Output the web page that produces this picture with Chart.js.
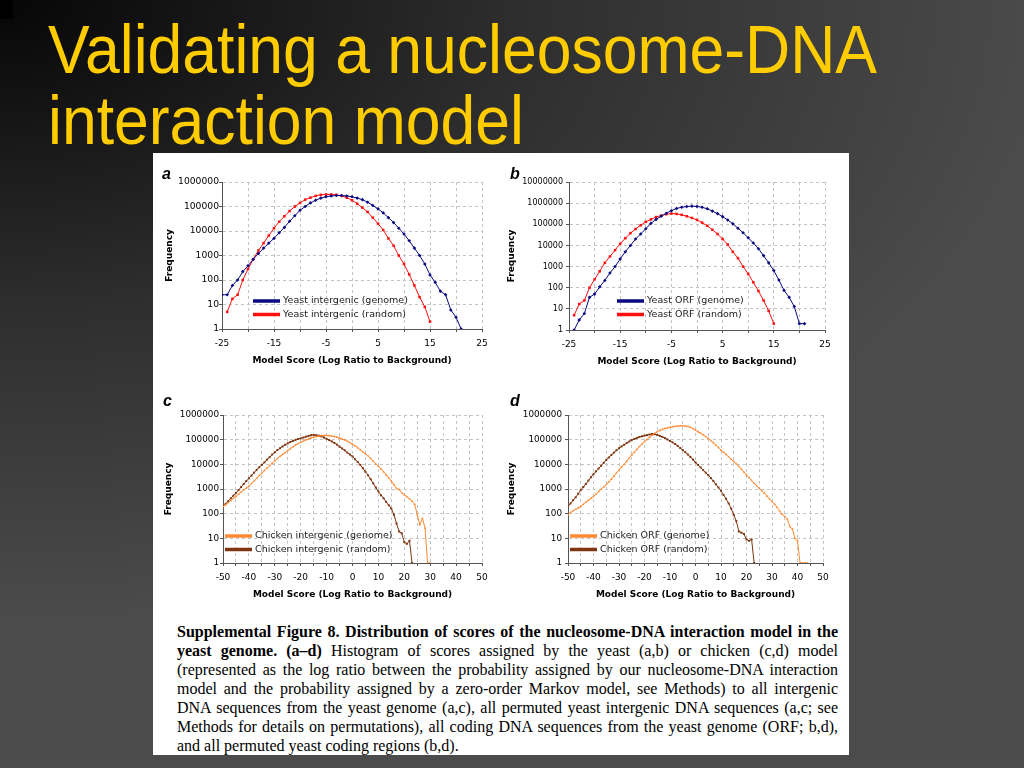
<!DOCTYPE html>
<html>
<head>
<meta charset="utf-8">
<title>Validating a nucleosome-DNA interaction model</title>
<script src="https://cdn.jsdelivr.net/npm/chart.js@4.4.1/dist/chart.umd.min.js"></script>
<style>
  html, body { margin: 0; padding: 0; }
  body {
    width: 1024px; height: 768px; overflow: hidden; position: relative;
    background: radial-gradient(ellipse 1050px 620px at 0 0, #060606 0%, #2e2e2e 50%, #4b4b4b 100%);
    background-color: #4b4b4b;
    font-family: "Liberation Sans", Arial, sans-serif;
  }
  #corner { position: absolute; left: 0; top: 0; width: 13px; height: 19px; background: #000; }
  #title {
    position: absolute; left: 48px; top: 14px; color: #ffcc00;
    font-size: 68px; line-height: 71px; white-space: nowrap;
  }
  #title .tl { display: inline-block; transform-origin: left center; }
  #sheet { position: absolute; left: 153px; top: 153px; width: 696px; height: 602px; background: #fff; }
  canvas { position: absolute; }
  .letter {
    position: absolute; font: italic bold 16px/16px "Liberation Sans", Arial, sans-serif; color: #000;
  }
  #caption {
    position: absolute; left: 177px; top: 621.5px; width: 661px;
    font-family: "Liberation Serif", "Times New Roman", serif; font-size: 16px; line-height: 19px; color: #000;
  }
  #caption .cl { display: inline-block; white-space: nowrap; transform-origin: left center; }
</style>
</head>
<body>
<div id="corner"></div>
<div id="title"><span class="tl">Validating a nucleosome-DNA</span><br><span class="tl">interaction model</span></div>
<div id="sheet"></div>

<canvas id="chartA" width="334" height="205" style="left:160px;top:165px"></canvas>
<canvas id="chartB" width="335" height="206" style="left:502px;top:165px"></canvas>
<canvas id="chartC" width="335" height="206" style="left:159px;top:398px"></canvas>
<canvas id="chartD" width="333" height="206" style="left:502px;top:398px"></canvas>

<div class="letter" style="left:162px;top:166px">a</div>
<div class="letter" style="left:510px;top:166px">b</div>
<div class="letter" style="left:163px;top:393px">c</div>
<div class="letter" style="left:510px;top:393px">d</div>

<div id="caption">
  <div><span class="cl j"><b>Supplemental Figure 8. Distribution of scores of the nucleosome-DNA interaction model in the</b></span></div>
  <div><span class="cl j"><b>yeast genome. (a–d)</b> Histogram of scores assigned by the yeast (a,b) or chicken (c,d) model</span></div>
  <div><span class="cl j">(represented as the log ratio between the probability assigned by our nucleosome-DNA interaction</span></div>
  <div><span class="cl j">model and the probability assigned by a zero-order Markov model, see Methods) to all intergenic</span></div>
  <div><span class="cl j">DNA sequences from the yeast genome (a,c), all permuted yeast intergenic DNA sequences (a,c; see</span></div>
  <div><span class="cl j">Methods for details on permutations), all coding DNA sequences from the yeast genome (ORF; b,d),</span></div>
  <div><span class="cl">and all permuted yeast coding regions (b,d).</span></div>
</div>

<script>
// --- data (score bins, frequency counts) ---
const xTitle = 'Model Score (Log Ratio to Background)';
const yTitle = 'Frequency';

const yTicksSix = [1, 10, 100, 1000, 10000, 100000, 1000000];
const yTicksSeven = [1, 10, 100, 1000, 10000, 100000, 1000000, 10000000];

// panel a / b : yeast model
const aGenomeX = [-25,-24,-23,-22,-21,-20,-19,-18,-17,-16,-15,-14,-13,-12,-11,-10,-9,-8,-7,-6,-5,-4,-3,-2,-1,
  0,1,2,3,4,5,6,7,8,9,10,11,12,13,14,15,16,17,18,19,20,21];
const aGenomeY = [25,25,60,100,220,380,700,1200,2000,3200,5000,8500,14000,25000,42000,70000,100000,140000,180000,220000,
  250000,270000,280000,280000,270000,250000,220000,190000,150000,110000,80000,55000,35000,22000,13000,7500,4000,2000,1000,450,
  160,80,35,25,6,3,1];

const yeastRandomX = [-24,-23,-22,-21,-20,-19,-18,-17,-16,-15,-14,-13,-12,-11,-10,-9,-8,-7,-6,-5,-4,-3,-2,-1,
  0,1,2,3,4,5,6,7,8,9,10,11,12,13,14,15];
const aRandomY = [5,17,25,100,280,700,1600,3200,6500,13000,24000,40000,65000,100000,140000,190000,230000,270000,300000,310000,
  310000,300000,270000,230000,180000,130000,90000,60000,35000,20000,11000,5000,2500,1000,450,170,60,20,8,2];

const bGenomeX = [-24,-23,-22,-21,-20,-19,-18,-17,-16,-15,-14,-13,-12,-11,-10,-9,-8,-7,-6,-5,-4,-3,-2,-1,
  0,1,2,3,4,5,6,7,8,9,10,11,12,13,14,15,16,17,18,19,20,21];
const bGenomeY = [1,3,6,35,50,110,220,500,1000,2300,5000,10000,20000,35000,62000,110000,170000,240000,330000,440000,
  560000,640000,690000,720000,700000,640000,540000,420000,320000,230000,160000,105000,65000,40000,23000,13000,7000,3300,1500,650,
  230,75,35,13,2,2];
const bRandomY = [5,17,25,100,250,600,1500,3000,6000,12000,22000,38000,60000,90000,130000,170000,220000,260000,300000,320000,
  310000,280000,240000,200000,160000,120000,85000,55000,35000,20000,11000,5000,2500,1000,450,180,70,25,8,2];

// panel c / d : chicken model
const cGenomeX = [-50,-49,-48,-47,-46,-45,-44,-43,-42,-41,-40,-39,-38,-37,-36,-35,-34,-33,-32,-31,
  -30,-29,-28,-27,-26,-25,-24,-23,-22,-21,-20,-19,-18,-17,-16,-15,-14,-13,-12,-11,
  -10,-9,-8,-7,-6,-5,-4,-3,-2,-1,0,1,2,3,4,5,6,7,8,9,10,11,12,13,14,15,16,17,18,19,
  20,21,22,23,24,25,26,27,28,29,30];
const cGenomeY = [190,230,280,340,420,500,620,750,920,1100,
  1300,1650,2100,2700,3500,4400,5600,7000,8800,11000,
  14000,17000,21000,25000,30000,36000,43000,51000,60000,69000,
  78000,88000,98000,108000,118000,126000,134000,140000,146000,148000,
  147000,145000,140000,134000,126000,117000,107000,97000,86000,76000,
  65000,56000,47000,39000,32000,27000,22000,17500,13500,10500,
  8500,6500,5000,3700,2800,2100,1500,1050,950,700,
  580,480,400,320,240,90,35,65,26,1,
  1];

const chickenRandomX = [-50,-49,-48,-47,-46,-45,-44,-43,-42,-41,-40,-39,-38,-37,-36,-35,-34,-33,-32,-31,
  -30,-29,-28,-27,-26,-25,-24,-23,-22,-21,-20,-19,-18,-17,-16,-15,-14,-13,-12,-11,
  -10,-9,-8,-7,-6,-5,-4,-3,-2,-1,0,1,2,3,4,5,6,7,8,9,10,11,12,13,14,15,16,17,18,19,
  20,21,22,23];
const cRandomY = [190,250,320,420,540,700,900,1200,1600,2100,
  2700,3500,4600,6000,7600,9500,12000,15500,19500,25000,
  31000,38000,45000,53000,62000,71000,80000,89000,98000,106000,
  113000,122000,132000,142000,152000,155000,152000,146000,135000,122000,
  108000,96000,85000,74000,63000,52000,44000,37000,30000,25000,
  21000,16000,12500,9500,7000,5000,3600,2500,1700,1150,
  800,560,420,300,220,160,90,40,19,16,
  7,6,8,1];

const dGenomeX = [-50,-49,-48,-47,-46,-45,-44,-43,-42,-41,-40,-39,-38,-37,-36,-35,-34,-33,-32,-31,
  -30,-29,-28,-27,-26,-25,-24,-23,-22,-21,-20,-19,-18,-17,-16,-15,-14,-13,-12,-11,
  -10,-9,-8,-7,-6,-5,-4,-3,-2,-1,0,1,2,3,4,5,6,7,8,9,10,11,12,13,14,15,16,17,18,19,
  20,21,22,23,24,25,26,27,28,29,30,31,32,33,34,35,36,37,38,39,40,41,42,43,44];
const dGenomeY = [90,110,130,150,170,195,240,290,350,420,
  500,620,780,970,1200,1500,1900,2500,3300,4500,
  6000,7800,10000,13000,18000,24000,31000,40000,52000,67000,
  83000,102000,125000,150000,180000,210000,235000,260000,285000,300000,
  316000,330000,345000,355000,362000,365000,355000,340000,315000,280000,
  240000,210000,182000,158000,134000,112000,92000,75000,60000,48000,
  38000,31000,25000,20000,16000,13000,10500,8300,6500,4900,
  3700,2900,2200,1700,1350,1070,850,680,520,400,
  310,240,180,130,95,77,60,30,24,10,
  8,1,1,1,1];
const dRandomY = [195,260,350,460,640,900,1200,1600,2200,3000,
  4000,5200,6800,8700,11500,15000,19000,24000,30000,37000,
  45000,53000,62000,72000,84000,97000,107000,118000,128000,137000,
  145000,153000,162000,170000,166000,155000,143000,130000,116000,102000,
  89000,78000,67000,56000,46000,38000,31000,25000,20000,15500,
  12000,9500,7500,5800,4600,3700,2800,2100,1550,1150,
  840,580,400,260,160,90,50,19,17,15,
  9,8,9,1];

// --- styles ---
const NAVY = '#0a0a82', RED = '#ff1010', ORANGE = '#ff8a33', BROWN = '#7f3510';
const titleFont = { family: 'DejaVu Sans', size: 9, weight: 'bold' };

// legend drawn inside the plot area, like the original Excel charts
const insideLegend = {
  id: 'insideLegend',
  afterDatasetsDraw(chart, args, opts) {
    const { ctx, chartArea } = chart;
    ctx.save();
    ctx.font = '9.5px "DejaVu Sans"';
    ctx.textBaseline = 'middle';
    chart.data.datasets.forEach((ds, i) => {
      const x = chartArea.left + opts.x;
      const y = chartArea.top + opts.y + i * opts.gap;
      ctx.strokeStyle = ds.borderColor;
      ctx.lineWidth = 3.5;
      ctx.beginPath(); ctx.moveTo(x, y); ctx.lineTo(x + 27, y); ctx.stroke();
      ctx.fillStyle = '#1a1a1a';
      ctx.fillText(ds.label, x + 30, y);
    });
    ctx.restore();
  }
};

function makePanel(id, geo, xMin, xMax, yTicks, series) {
  const xTickFont = { family: 'DejaVu Sans', size: 9 };
  const yTickFont = { family: 'DejaVu Sans', size: geo.yFont };
  return new Chart(document.getElementById(id), {
    type: 'line',
    data: {
      datasets: series.map(s => ({
        label: s.label,
        data: s.x.map((x, i) => ({ x: x, y: s.y[i] })),
        borderColor: s.color,
        backgroundColor: s.color,
        borderWidth: 1,
        pointStyle: s.marker,
        pointRadius: s.radius,
        pointBorderWidth: 0,
        tension: 0
      }))
    },
    options: {
      responsive: false,
      animation: false,
      layout: { padding: { top: 17, right: 12, left: 0, bottom: 0 } },
      plugins: {
        legend: { display: false },
        tooltip: { enabled: false },
        insideLegend: { x: geo.lx, y: geo.ly, gap: 13.5 }
      },
      scales: {
        x: {
          type: 'linear', min: xMin, max: xMax,
          afterFit: s => { s.height = 41; },
          ticks: {
            stepSize: 5, autoSkip: false, maxRotation: 0, padding: 6, color: '#000', font: xTickFont,
            callback: v => ((v - xMin) % 10 === 0 ? String(v) : '')
          },
          grid: { color: '#c4c4c4', tickLength: 3, tickColor: '#555' },
          border: { color: '#555', dash: [3, 3] },
          title: { display: true, text: xTitle, color: '#000', font: titleFont, padding: { top: 2, bottom: 4 } }
        },
        y: {
          type: 'logarithmic', min: 1, max: yTicks[yTicks.length - 1],
          afterFit: s => { s.width = geo.yW; },
          afterBuildTicks: s => { s.ticks = yTicks.map(v => ({ value: v })); },
          ticks: { padding: geo.yPad, color: '#000', font: yTickFont, callback: v => String(v) },
          grid: { color: '#c4c4c4', tickLength: 3, tickColor: '#555' },
          border: { color: '#555', dash: [3, 3] },
          title: { display: true, text: yTitle, color: '#000', font: titleFont, padding: { top: 4, bottom: 4 } }
        }
      }
    },
    plugins: [insideLegend]
  });
}

makePanel('chartA', { yW: 62, lx: 31, ly: 119, yFont: 9.2, yPad: 0 }, -25, 25, yTicksSix, [
  { label: 'Yeast intergenic (genome)', x: aGenomeX, y: aGenomeY, color: NAVY, marker: 'rectRot', radius: 1.8 },
  { label: 'Yeast intergenic (random)', x: yeastRandomX, y: aRandomY, color: RED, marker: 'rect', radius: 1.8 }
]);
makePanel('chartB', { yW: 67, lx: 48, ly: 119, yFont: 8, yPad: 3 }, -25, 25, yTicksSeven, [
  { label: 'Yeast ORF (genome)', x: bGenomeX, y: bGenomeY, color: NAVY, marker: 'rectRot', radius: 1.8 },
  { label: 'Yeast ORF (random)', x: yeastRandomX, y: bRandomY, color: RED, marker: 'rect', radius: 1.8 }
]);
makePanel('chartC', { yW: 64, lx: 2, ly: 121, yFont: 8.8, yPad: 1 }, -50, 50, yTicksSix, [
  { label: 'Chicken intergenic (genome)', x: cGenomeX, y: cGenomeY, color: ORANGE, marker: 'triangle', radius: 1.4 },
  { label: 'Chicken intergenic (random)', x: chickenRandomX, y: cRandomY, color: BROWN, marker: 'rect', radius: 1.4 }
]);
makePanel('chartD', { yW: 66, lx: 2, ly: 121, yFont: 8.8, yPad: 3 }, -50, 50, yTicksSix, [
  { label: 'Chicken ORF (genome)', x: dGenomeX, y: dGenomeY, color: ORANGE, marker: 'triangle', radius: 1.4 },
  { label: 'Chicken ORF (random)', x: chickenRandomX, y: dRandomY, color: BROWN, marker: 'rect', radius: 1.4 }
]);

// squeeze / justify text lines to the widths of the original slide
function fitLine(el, target, justify) {
  const w = el.getBoundingClientRect().width;
  if (!justify || w > target) {
    el.style.transform = 'scaleX(' + (target / w) + ')';
  } else {
    const gaps = (el.textContent.match(/ /g) || []).length;
    if (gaps) el.style.wordSpacing = ((target - w) / gaps) + 'px';
  }
}
const titleLines = document.querySelectorAll('#title .tl');
const titleScale = 829 / titleLines[0].getBoundingClientRect().width;
titleLines.forEach(el => { el.style.transform = 'scaleX(' + titleScale + ')'; });
document.querySelectorAll('#caption .cl.j').forEach(el => fitLine(el, 661, true));
</script>
</body>
</html>
